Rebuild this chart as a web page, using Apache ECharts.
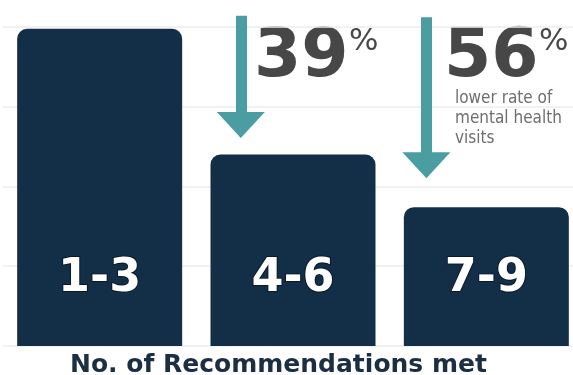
<!DOCTYPE html>
<html>
<head>
<meta charset="utf-8">
<script src="https://cdn.jsdelivr.net/npm/echarts@6/dist/echarts.min.js"></script>
<style>html,body{margin:0;padding:0;background:#fff}#c{width:573px;height:375px}</style>
</head>
<body>
<div id="c"></div>
<script>
// Data
const categories = ['1-3', '4-6', '7-9'];
const visitRate = [99.4, 60, 43.5];
const reductionLabels = ['39', '56'];
const reductionNote = 'lower rate of\nmental health\nvisits';
const axisTitle = 'No. of Recommendations met';
const yTicks = [0, 25, 50, 75, 100, 125];

const chart = echarts.init(document.getElementById('c'), null, {renderer: 'canvas'});
const teal = '#4a9ea1';
const navy = '#132f48';

const arrow = (x, y0, y1) => [{coord: [x, y0]}, {coord: [x, y1]}];

chart.setOption({
  animation: false,
  backgroundColor: '#ffffff',
  grid: {left: 3, width: 580, top: -53, height: 399, outerBoundsMode: 'none', containLabel: false},
  xAxis: [
    {type: 'category', data: categories, axisLine: {show: false}, axisTick: {show: false}, axisLabel: {show: false}},
    {type: 'value', min: -0.5, max: 2.5, show: false}
  ],
  yAxis: {
    type: 'value', min: yTicks[0], max: yTicks[yTicks.length - 1], interval: 25,
    axisLabel: {show: false}, axisLine: {show: false}, axisTick: {show: false},
    splitLine: {lineStyle: {color: '#ececec', width: 1.5}}
  },
  title: {
    text: axisTitle, left: 65, top: 348,
    textStyle: {fontFamily: 'DejaVu Sans', fontWeight: 'bold', fontSize: 25, color: '#1b2e44'}
  },
  series: [
    {
      type: 'bar', data: visitRate, barWidth: 165,
      itemStyle: {color: navy, borderRadius: [10, 10, 0, 0]},
      label: {
        show: true, position: 'insideBottom', distance: 44,
        formatter: p => categories[p.dataIndex],
        fontFamily: 'DejaVu Sans', fontWeight: 'bold', fontSize: 46, color: '#ffffff',
        textBorderColor: '#0a1826', textBorderWidth: 2
      }
    },
    {
      type: 'line', xAxisIndex: 1, data: [], silent: true,
      markLine: {
        silent: true, animation: false,
        symbol: ['none', 'triangle'], symbolSize: [48, 26],
        label: {show: false},
        lineStyle: {color: teal, width: 11, type: 'solid'},
        data: [arrow(0.73, 103.5, 69.2), arrow(1.69, 103, 56.6)]
      }
    }
  ],
  graphic: [
    {type: 'text', left: 254, top: 24, style: {text: reductionLabels[0], fontFamily: 'DejaVu Sans', fontWeight: 'bold', fontSize: 68, fill: '#474747'}},
    {type: 'text', left: 349, top: 26, style: {text: '%', fontFamily: 'DejaVu Sans', fontSize: 31, fill: '#474747'}},
    {type: 'text', left: 444, top: 24, style: {text: reductionLabels[1], fontFamily: 'DejaVu Sans', fontWeight: 'bold', fontSize: 68, fill: '#474747'}},
    {type: 'text', left: 539, top: 26, style: {text: '%', fontFamily: 'DejaVu Sans', fontSize: 31, fill: '#474747'}},
    {type: 'text', left: 455, top: 89, style: {text: reductionNote, fontFamily: 'DejaVu Sans Condensed', fontSize: 17, lineHeight: 20, fill: '#6e6e6e'}}
  ]
});
</script>
</body>
</html>
